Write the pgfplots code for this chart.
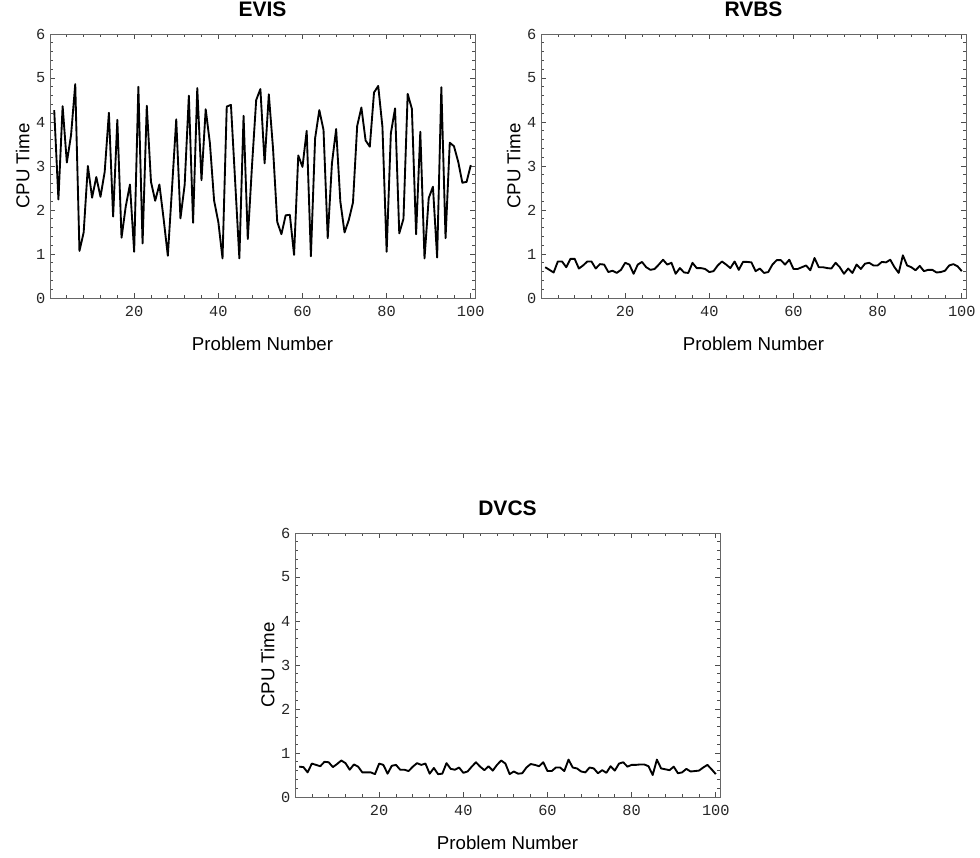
\documentclass[border=0pt]{standalone}
\usepackage{fontspec}
\setmainfont{Liberation Sans}
\newfontfamily\monofont{Liberation Mono}
\usepackage{pgfplots}
\usepackage{pgfplotstable}
\pgfplotsset{compat=1.18}

% CPU time per problem
\pgfplotstableread{
n evis rvbs dvcs
1 4.27 0.70 0.69
2 2.24 0.64 0.68
3 4.36 0.58 0.56
4 3.08 0.83 0.76
5 3.70 0.83 0.73
6 4.86 0.70 0.70
7 1.07 0.89 0.80
8 1.49 0.89 0.79
9 3.00 0.67 0.68
10 2.28 0.74 0.75
11 2.75 0.83 0.83
12 2.30 0.83 0.77
13 2.87 0.67 0.62
14 4.21 0.77 0.74
15 1.85 0.76 0.69
16 4.05 0.59 0.56
17 1.37 0.62 0.56
18 2.08 0.57 0.56
19 2.58 0.64 0.52
20 1.05 0.80 0.76
21 4.80 0.76 0.73
22 1.24 0.55 0.53
23 4.37 0.76 0.71
24 2.64 0.82 0.73
25 2.21 0.70 0.62
26 2.58 0.64 0.62
27 1.80 0.66 0.59
28 0.96 0.76 0.69
29 2.50 0.87 0.77
30 4.06 0.76 0.73
31 1.81 0.80 0.76
32 2.57 0.55 0.53
33 4.60 0.68 0.66
34 1.71 0.58 0.52
35 4.77 0.57 0.53
36 2.68 0.80 0.77
37 4.29 0.68 0.64
38 3.52 0.68 0.62
39 2.21 0.66 0.67
40 1.73 0.59 0.55
41 0.90 0.61 0.58
42 4.35 0.74 0.69
43 4.39 0.83 0.79
44 2.65 0.76 0.69
45 0.90 0.68 0.61
46 4.14 0.83 0.70
47 1.34 0.64 0.60
48 3.00 0.82 0.73
49 4.50 0.82 0.83
50 4.75 0.81 0.76
51 3.06 0.61 0.52
52 4.63 0.67 0.58
53 3.40 0.57 0.53
54 1.73 0.59 0.54
55 1.45 0.76 0.67
56 1.88 0.86 0.75
57 1.89 0.86 0.73
58 0.98 0.76 0.70
59 3.24 0.87 0.79
60 2.98 0.66 0.59
61 3.80 0.66 0.59
62 0.95 0.70 0.67
63 3.63 0.74 0.67
64 4.27 0.63 0.59
65 3.82 0.91 0.85
66 1.36 0.70 0.67
67 3.06 0.70 0.65
68 3.84 0.68 0.58
69 2.19 0.67 0.56
70 1.49 0.80 0.67
71 1.77 0.70 0.65
72 2.17 0.55 0.54
73 3.91 0.67 0.61
74 4.33 0.57 0.55
75 3.58 0.76 0.70
76 3.44 0.66 0.60
77 4.67 0.78 0.76
78 4.82 0.80 0.79
79 3.89 0.74 0.69
80 1.05 0.74 0.73
81 3.74 0.82 0.73
82 4.31 0.81 0.74
83 1.47 0.87 0.74
84 1.80 0.70 0.70
85 4.64 0.57 0.50
86 4.30 0.97 0.85
87 1.45 0.74 0.65
88 3.78 0.70 0.63
89 0.90 0.63 0.61
90 2.27 0.73 0.69
91 2.53 0.61 0.54
92 0.92 0.64 0.56
93 4.79 0.64 0.64
94 1.36 0.58 0.58
95 3.53 0.59 0.59
96 3.45 0.62 0.60
97 3.10 0.74 0.67
98 2.62 0.77 0.73
99 2.64 0.72 0.63
100 3.02 0.61 0.52
}\cputimes

\pgfplotsset{cpu/.style={
  scale only axis, width=318.75pt, height=198pt,
  xmin=0, xmax=101, ymin=0, ymax=6,
  xtick={20,40,60,80,100}, minor xtick={0,4,...,100},
  ytick={0,1,...,6}, minor ytick={0,0.2,...,6},
  tick align=inside,
  major tick length=3.5pt, minor tick length=2pt,
  axis line style={draw=black!60, line width=0.6pt},
  tick style={black!70, line width=0.5pt},
  /pgf/number format/assume math mode=true,
  ticklabel style={font=\monofont\fontsize{11.5}{12}\selectfont, text=black!85},
  xticklabel style={anchor=base, yshift=-13.5pt},
  label style={font=\fontsize{14}{16}\selectfont},
  xlabel={Problem Number}, ylabel={CPU Time},
  xlabel style={at={(0.5,0)}, anchor=base, yshift=-39.5pt},
  ylabel style={at={(0,0.5)}, anchor=base, yshift=15.5pt},
  title style={font=\bfseries\fontsize{15.75}{18}\selectfont, at={(0.5,1)}, anchor=base, yshift=7.5pt},
}}

\begin{document}
\begin{tikzpicture}
\useasboundingbox (0,0) rectangle (735pt,-642.75pt);

\begin{axis}[cpu, title={EVIS}, at={(37.5pt,-223.5pt)}, anchor=south west]
  \addplot[black, mark=none, line width=1.4pt, line join=round] table[x=n, y=evis] {\cputimes};
\end{axis}

\begin{axis}[cpu, title={RVBS}, at={(405.75pt,-223.5pt)}, anchor=south west]
  \addplot[black, mark=none, line width=1.4pt, line join=round] table[x=n, y=rvbs] {\cputimes};
\end{axis}

\begin{axis}[cpu, title={DVCS}, at={(221.25pt,-597.75pt)}, anchor=south west]
  \addplot[black, mark=none, line width=1.4pt, line join=round] table[x=n, y=dvcs] {\cputimes};
\end{axis}
\end{tikzpicture}
\end{document}
